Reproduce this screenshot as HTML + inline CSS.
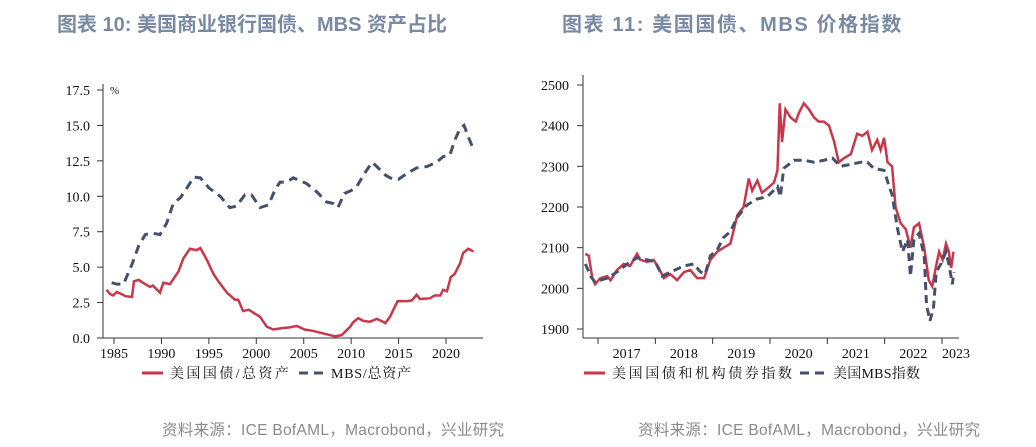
<!DOCTYPE html>
<html><head><meta charset="utf-8"><style>
body{margin:0;background:#fff;width:1036px;height:447px;overflow:hidden;position:relative;font-family:"Liberation Sans","Noto Sans CJK SC",sans-serif}
.title{position:absolute;top:8px;font-size:20px;font-weight:bold;color:#7a8aa3;white-space:nowrap}
.src{position:absolute;top:418px;font-size:15.5px;color:#8a8a8a;white-space:nowrap;letter-spacing:0.3px}
svg{position:absolute;left:0;top:0}
</style></head><body>
<div class="title" style="left:57px">图表 10: 美国商业银行国债、MBS 资产占比</div>
<div class="title" style="left:562px;letter-spacing:1.6px">图表 11: 美国国债、MBS 价格指数</div>
<div class="src" style="left:162px">资料来源：ICE BofAML，Macrobond，兴业研究</div>
<div class="src" style="left:638px">资料来源：ICE BofAML，Macrobond，兴业研究</div>
<svg id="chart" width="1036" height="447"></svg>
<script>
// Left chart data
const leftYTicks=[0,2.5,5,7.5,10,12.5,15,17.5];
const leftYLabels=["0.0","2.5","5.0","7.5","10.0","12.5","15.0","17.5"];
const leftXTicks=[1985,1990,1995,2000,2005,2010,2015,2020];
const tsyYears=[1984.2,1984.6,1984.9,1985.3,1985.8,1986.2,1986.9,1987.1,1987.6,1988.3,1988.8,1989.1,1989.85,1990.2,1990.9,1991.4,1991.8,1992.3,1993,1993.7,1994.1,1994.8,1995.5,1996,1996.9,1997.75,1998.1,1998.6,1999.2,1999.9,2000.4,2001.1,2001.8,2002.7,2003.55,2004.25,2005.1,2006,2006.9,2007.8,2008.3,2009,2009.9,2010.2,2010.75,2011.3,2012,2012.7,2013.2,2013.6,2014.1,2014.45,2014.9,2015.85,2016.4,2016.9,2017.25,2018.3,2018.8,2019.4,2019.7,2020.1,2020.5,2020.9,2021.5,2021.8,2022.35,2022.9];
const tsyShare=[3.4,3.1,3.0,3.25,3.1,2.95,2.9,4.0,4.1,3.8,3.6,3.7,3.2,3.9,3.8,4.3,4.7,5.6,6.3,6.2,6.35,5.5,4.5,4.0,3.2,2.7,2.7,1.9,2.0,1.7,1.5,0.8,0.6,0.7,0.75,0.85,0.6,0.5,0.35,0.2,0.12,0.2,0.8,1.1,1.4,1.2,1.15,1.35,1.2,1.05,1.5,2.0,2.6,2.6,2.65,3.05,2.75,2.8,3.0,3.0,3.4,3.3,4.3,4.5,5.3,6.0,6.3,6.1];
const mbsYears=[1984.75,1985.3,1986,1986.9,1987.6,1988.3,1989,1989.85,1990.55,1991.25,1992,1992.7,1993.4,1994.1,1995,1996.2,1997.2,1997.9,1998.8,1999.5,2000.4,2001.3,2002,2002.5,2003.2,2003.9,2004.6,2005.3,2006.4,2007.4,2008.1,2008.6,2009.3,2010,2010.6,2011.5,2012.2,2012.7,2013.6,2014.4,2015,2015.85,2016.9,2018,2019,2019.7,2020.4,2020.95,2021.5,2021.9,2022.35,2022.9];
const mbsShare=[3.9,3.8,3.8,5.2,6.5,7.3,7.4,7.3,8.1,9.5,9.9,10.6,11.35,11.3,10.6,10.0,9.2,9.3,10.1,10.1,9.2,9.4,10.5,11.0,11.0,11.3,11.1,10.9,10.3,9.6,9.5,9.2,10.2,10.4,10.7,11.7,12.4,12.1,11.5,11.2,11.2,11.6,12.0,12.1,12.4,12.8,12.9,14.0,14.8,15.0,14.2,13.3];
// Right chart data
const rightYTicks=[1900,2000,2100,2200,2300,2400,2500];
const rightXTicks=[2017,2018,2019,2020,2021,2022,2023];
const rightXLabels=["2017","2018","2019","2020","2021","2022","2023"];
const aggDates=[2016.78,2016.84,2016.90,2016.95,2017.04,2017.16,2017.22,2017.33,2017.45,2017.56,2017.68,2017.74,2017.86,2017.97,2018.06,2018.15,2018.26,2018.38,2018.50,2018.61,2018.73,2018.85,2018.96,2019.08,2019.19,2019.31,2019.43,2019.54,2019.63,2019.69,2019.78,2019.86,2019.95,2020.07,2020.13,2020.17,2020.21,2020.27,2020.36,2020.45,2020.50,2020.59,2020.68,2020.77,2020.85,2020.94,2021.03,2021.12,2021.20,2021.29,2021.41,2021.52,2021.61,2021.70,2021.78,2021.87,2021.93,2021.99,2022.05,2022.13,2022.19,2022.28,2022.37,2022.45,2022.51,2022.60,2022.69,2022.77,2022.83,2022.89,2022.95,2023.01,2023.07,2023.12,2023.16,2023.20];
const aggIndex=[2085,2080,2025,2010,2025,2030,2020,2045,2060,2055,2085,2070,2065,2070,2050,2025,2035,2020,2040,2045,2025,2025,2070,2090,2100,2110,2180,2200,2270,2240,2265,2235,2245,2260,2290,2455,2360,2440,2420,2410,2430,2455,2440,2420,2410,2410,2400,2360,2310,2320,2330,2380,2375,2385,2340,2365,2340,2370,2310,2300,2200,2160,2145,2100,2150,2160,2100,2020,2005,2050,2090,2070,2110,2090,2050,2090];
const mbsDates=[2016.78,2016.87,2016.95,2017.04,2017.16,2017.33,2017.51,2017.68,2017.86,2018.00,2018.12,2018.26,2018.50,2018.67,2018.79,2018.87,2018.96,2019.08,2019.19,2019.31,2019.43,2019.60,2019.78,2019.95,2020.13,2020.18,2020.24,2020.42,2020.59,2020.77,2020.94,2021.09,2021.23,2021.41,2021.58,2021.70,2021.81,2021.99,2022.08,2022.13,2022.22,2022.31,2022.40,2022.45,2022.51,2022.60,2022.69,2022.73,2022.79,2022.85,2022.90,2022.98,2023.07,2023.12,2023.18,2023.21];
const mbsIndex=[2060,2030,2015,2020,2025,2040,2060,2075,2070,2065,2030,2040,2055,2060,2040,2035,2080,2095,2125,2140,2175,2205,2220,2225,2250,2225,2295,2315,2315,2310,2315,2320,2300,2305,2310,2310,2295,2290,2250,2230,2150,2090,2120,2030,2120,2135,2080,1960,1920,1950,2040,2060,2090,2060,2010,2040];

const NS='http://www.w3.org/2000/svg';
const svg=document.getElementById('chart');
function mk(tag,attrs,parent){const e=document.createElementNS(NS,tag);for(const k in attrs)e.setAttribute(k,attrs[k]);(parent||svg).appendChild(e);return e;}
const RED='#c8374a',BLUE='#45506b',AX='#333';
const LF='Liberation Serif,Noto Serif CJK SC,serif';
// left axes
const lx=y=>114+(y-1985)*9.486;
const ly=v=>338-v*(248/17.5);
const gL=mk('g',{});


mk('line',{x1:103,y1:84,x2:103,y2:338,stroke:AX,'stroke-width':1},gL);
mk('line',{x1:103,y1:338,x2:483,y2:338,stroke:AX,'stroke-width':1},gL);
leftYTicks.forEach((v,i)=>{
  mk('line',{x1:97,x2:103,y1:ly(v),y2:ly(v),stroke:AX},gL);
  const t=mk('text',{x:90,y:ly(v)+5,'text-anchor':'end','font-size':14,'font-family':'Liberation Serif,serif',fill:'#111'},gL);
  t.textContent=leftYLabels[i];
  
  
});
leftXTicks.forEach(v=>{
  mk('line',{x1:lx(v),x2:lx(v),y1:338,y2:344,stroke:AX},gL);
  const t=mk('text',{x:lx(v),y:358,'text-anchor':'middle','font-size':14,'font-family':'Liberation Serif,serif',fill:'#111'},gL);
  t.textContent=v;
  
  
});
const pct=mk('text',{x:110,y:94,'font-size':11,'font-family':'Liberation Serif,serif',fill:'#111'},gL);pct.textContent='%';


const pL1=mk('polyline',{points:mbsYears.map((y,i)=>lx(y)+','+ly(mbsShare[i])).join(' '),fill:'none',stroke:BLUE,'stroke-width':3,'stroke-dasharray':'9,6'},gL);


const pL2=mk('polyline',{points:tsyYears.map((y,i)=>lx(y)+','+ly(tsyShare[i])).join(' '),fill:'none',stroke:RED,'stroke-width':2.5},gL);


// left legend
mk('line',{x1:142,x2:163,y1:373,y2:373,stroke:RED,'stroke-width':3},gL);
let t=mk('text',{x:170,y:378,'font-size':14,'letter-spacing':1.2,fill:'#111','font-family':LF,textLength:120},gL);t.textContent='美国国债/总资产';


mk('line',{x1:299,x2:327,y1:373,y2:373,stroke:BLUE,'stroke-width':3,'stroke-dasharray':'9,6'},gL);
t=mk('text',{x:331,y:378,'font-size':14,fill:'#111','font-family':LF,textLength:80},gL);t.textContent='MBS/总资产';



// right axes
const rx=d=>598+(d-2017)*57.33;
const ry=v=>329-(v-1900)*(244/600);
const gR=mk('g',{});


mk('line',{x1:583,y1:75,x2:583,y2:338,stroke:AX},gR);
mk('line',{x1:583,y1:338,x2:959,y2:338,stroke:AX},gR);
rightYTicks.forEach(v=>{
  mk('line',{x1:577,x2:583,y1:ry(v),y2:ry(v),stroke:AX},gR);
  const t=mk('text',{x:569,y:ry(v)+5,'text-anchor':'end','font-size':14,'font-family':'Liberation Serif,serif',fill:'#111'},gR);
  t.textContent=v;
  
  
});
rightXTicks.forEach((v,i)=>{
  mk('line',{x1:rx(v),x2:rx(v),y1:338,y2:344,stroke:AX},gR);
  const cx=i<rightXTicks.length-1?rx(v)+28.6:rx(v)+14;
  const t=mk('text',{x:cx,y:358,'text-anchor':'middle','font-size':14,'font-family':'Liberation Serif,serif',fill:'#111'},gR);
  t.textContent=rightXLabels[i];
  
  
});
const pR1=mk('polyline',{points:aggDates.map((d,i)=>rx(d)+','+ry(aggIndex[i])).join(' '),fill:'none',stroke:RED,'stroke-width':2.5},gR);


const pR2=mk('polyline',{points:mbsDates.map((d,i)=>rx(d)+','+ry(mbsIndex[i])).join(' '),fill:'none',stroke:BLUE,'stroke-width':3,'stroke-dasharray':'8,5'},gR);


mk('line',{x1:584,x2:605,y1:373,y2:373,stroke:RED,'stroke-width':3},gR);
t=mk('text',{x:612,y:378,'font-size':14,fill:'#111','font-family':LF,textLength:180},gR);t.textContent='美国国债和机构债券指数';


mk('line',{x1:800,x2:827,y1:373,y2:373,stroke:BLUE,'stroke-width':3,'stroke-dasharray':'9,6'},gR);
t=mk('text',{x:833,y:378,'font-size':14,fill:'#111','font-family':LF,textLength:87},gR);t.textContent='美国MBS指数';


</script>
</body></html>
